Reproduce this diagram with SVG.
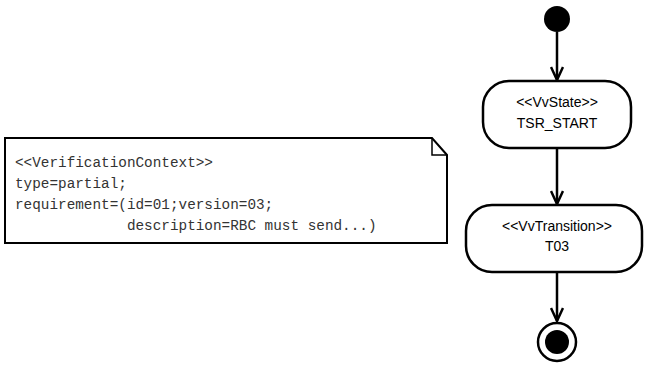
<svg xmlns="http://www.w3.org/2000/svg" width="645" height="365" viewBox="0 0 645 365">
  <style>
    .node { fill: #ffffff; stroke: #000000; stroke-width: 2.5; }
    .label { font-family: "Liberation Sans", Arial, sans-serif; font-size: 14px; fill: #000000; text-anchor: middle; }
    .mono { font-family: "Liberation Mono", "Courier New", monospace; font-size: 14.35px; fill: #333333; white-space: pre; }
    .edge { fill: none; stroke: #000000; stroke-width: 2.5; }
    .note { fill: #ffffff; stroke: #000000; stroke-width: 2; }
  </style>
  <defs>
    <!-- open V arrowhead, drawn pointing along +x so orient="auto" follows the line -->
    <marker id="open-arrow" viewBox="0 0 16 14" refX="15" refY="7" markerWidth="16" markerHeight="14" markerUnits="userSpaceOnUse" orient="auto">
      <path d="M2,1 L15,7 L2,13" fill="none" stroke="#000000" stroke-width="2.5"/>
    </marker>
  </defs>

  <rect width="645" height="365" fill="#ffffff"/>

  <!-- comment note -->
  <g id="note-context">
    <path class="note" d="M5,138 H432 L447,155 V243 H5 Z"/>
    <path d="M432,138 V155 H447" fill="none" stroke="#000000" stroke-width="1.5"/>
    <text class="mono" x="15" y="167">&lt;&lt;VerificationContext&gt;&gt;</text>
    <text class="mono" x="15" y="188">type=partial;</text>
    <text class="mono" x="15" y="209">requirement=(id=01;version=03;</text>
    <text class="mono" x="15" y="230">             description=RBC must send...)</text>
  </g>

  <!-- connectors -->
  <g id="edges">
    <line class="edge" x1="557" y1="32" x2="557" y2="80" marker-end="url(#open-arrow)"/>
    <line class="edge" x1="557" y1="148" x2="557" y2="204" marker-end="url(#open-arrow)"/>
    <line class="edge" x1="557" y1="272" x2="557" y2="321" marker-end="url(#open-arrow)"/>
  </g>

  <!-- initial pseudo-state -->
  <g id="initial">
    <circle cx="557" cy="19" r="13" fill="#000000"/>
  </g>

  <!-- state -->
  <g id="state-tsr-start">
    <rect class="node" x="483" y="81" width="148" height="67" rx="26" ry="26"/>
    <text class="label" x="557" y="107">&lt;&lt;VvState&gt;&gt;</text>
    <text class="label" x="557" y="128">TSR_START</text>
  </g>

  <!-- transition -->
  <g id="transition-t03">
    <rect class="node" x="466" y="205" width="176" height="67" rx="26" ry="26"/>
    <text class="label" x="557" y="231">&lt;&lt;VvTransition&gt;&gt;</text>
    <text class="label" x="557" y="251">T03</text>
  </g>

  <!-- final state -->
  <g id="final">
    <circle cx="557" cy="342" r="19" fill="#ffffff" stroke="#000000" stroke-width="2.5"/>
    <circle cx="557" cy="342" r="12" fill="#000000"/>
  </g>
</svg>
